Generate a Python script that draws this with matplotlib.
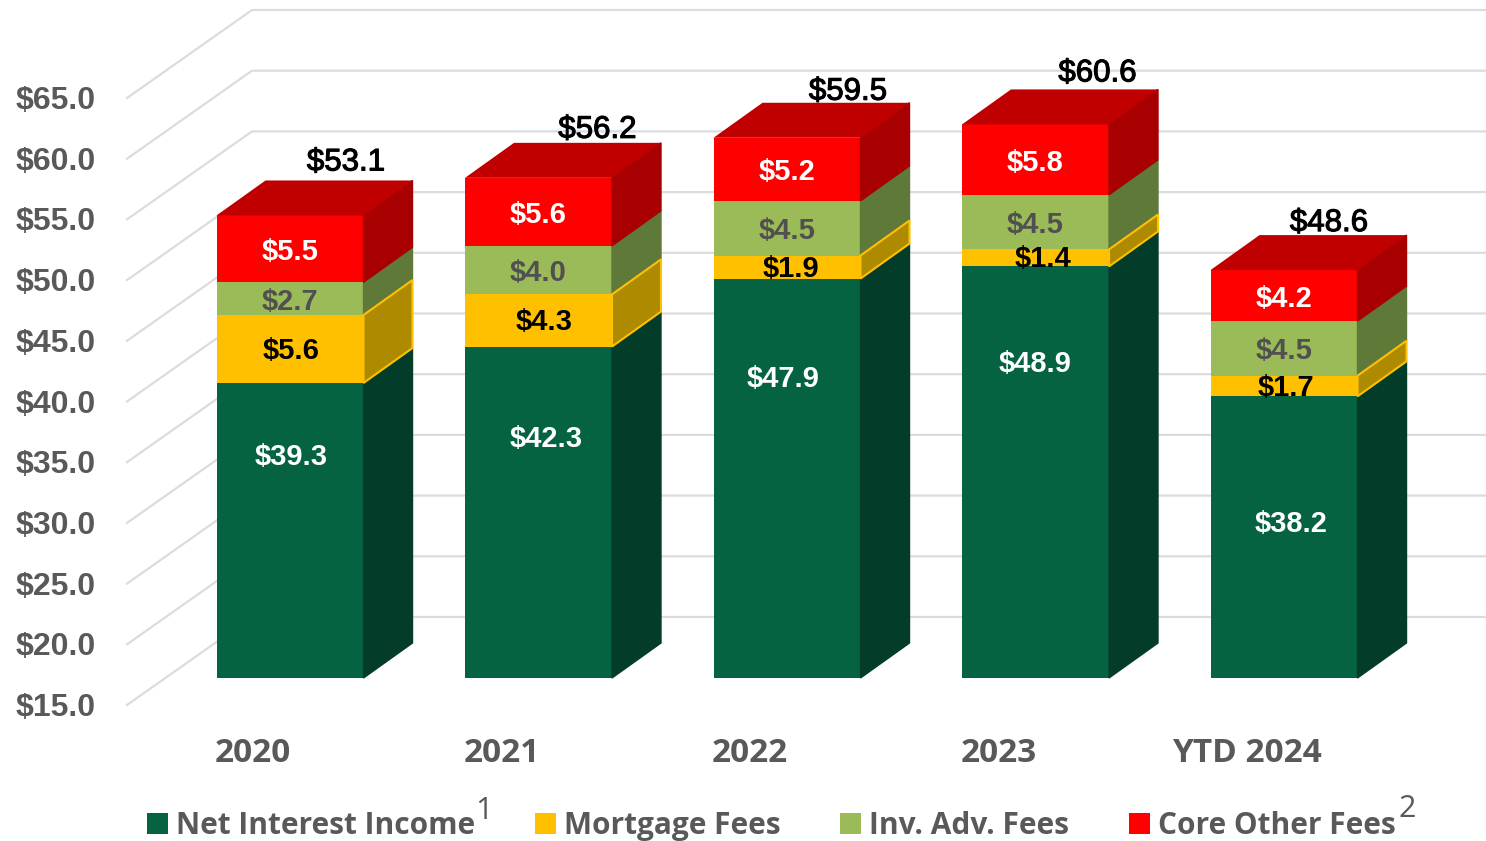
import numpy as np
import matplotlib
matplotlib.use('Agg')
import matplotlib.pyplot as plt
from matplotlib.patches import Patch
import matplotlib.patheffects as pe

# $ millions
categories = ['2020', '2021', '2022', '2023', 'YTD 2024']
net_interest = [39.3, 42.3, 47.9, 48.9, 38.2]
mortgage_fees = [5.6, 4.3, 1.9, 1.4, 1.7]
inv_adv_fees = [2.7, 4.0, 4.5, 4.5, 4.5]
core_other_fees = [5.5, 5.6, 5.2, 5.8, 4.2]
totals = [53.1, 56.2, 59.5, 60.6, 48.6]
axis_ticks = [15, 20, 25, 30, 35, 40, 45, 50, 55, 60, 65]
series_names = ['Net Interest Income', 'Mortgage Fees', 'Inv. Adv. Fees', 'Core Other Fees']

W, H = 1486, 841
PX_X = 248.5          # pixels per category
PX_Y = 12.14          # pixels per dollar
X0_PX, Y0_PX = 290, 678   # centre of first bar, base of the bars

fig = plt.figure(figsize=(W / 100, H / 100), dpi=100)
ax = fig.add_axes([0, 0, 1, 1])
ax.set_xlim(-X0_PX / PX_X, (W - X0_PX) / PX_X)
ax.set_ylim(15 - (H - Y0_PX) / PX_Y, 15 + Y0_PX / PX_Y)
ax.axis('off')

def dx(px):
    return px / PX_X

def dy(px):
    return px / PX_Y

x = np.arange(len(categories))
bar_w = dx(147)
depth_x, depth_y = dx(49), dy(35)

# walls: diagonal from the tick, then flat along the back
grid_left, grid_back = dx(127 - X0_PX), dx(252 - X0_PX)
grid_right = dx(W - X0_PX)
for v in axis_ticks:
    ax.plot([grid_left, grid_back, grid_right], [v - dy(27), v + dy(61), v + dy(61)],
            color='#dcdcdc', lw=1.6, zorder=1, solid_joinstyle='miter')
    ax.text(dx(96 - X0_PX), v - dy(30), f'${v:.1f}', ha='right', va='center',
            fontsize=23, fontweight='bold', color='#595959', family='Liberation Sans')

faces = [
    (net_interest, '#056342', '#033d2a'),
    (mortgage_fees, '#ffc000', '#ae8a00'),
    (inv_adv_fees, '#9bbb59', '#5f7a38'),
    (core_other_fees, '#ff0000', '#a80000'),
]

bottom = np.full(len(categories), 15.0)
for vals, front, side in faces:
    vals = np.array(vals)
    # bars are cut off by the axis at 15, so the first one starts there
    heights = vals - 15 if front == '#056342' else vals
    ax.bar(x, heights, bar_w, bottom=bottom, color=front, zorder=3, linewidth=0)
    top = bottom + heights
    for i in range(len(x)):
        r = x[i] + bar_w / 2
        edge = front if front == '#ffc000' else side
        ax.fill([r, r + depth_x, r + depth_x, r],
                [bottom[i], bottom[i] + depth_y, top[i] + depth_y, top[i]],
                facecolor=side, edgecolor=edge, lw=1.5 if front == '#ffc000' else 1,
                zorder=4 if front == '#ffc000' else 3)
    bottom = top

# lid of each stack
for i in range(len(x)):
    l, r = x[i] - bar_w / 2, x[i] + bar_w / 2
    ax.fill([l, r, r + depth_x, l + depth_x],
            [bottom[i], bottom[i], bottom[i] + depth_y, bottom[i] + depth_y],
            color='#c00000', lw=0, zorder=4)

# segment labels, the green ones were hand placed in the original
nii_label_at = [33.2, 34.7, 39.6, 40.9, 27.7]
nii_nudge = [1, 8, -4, 0, 7]
mort_nudge = [1, 6, 4, 8, 2]
seg_font = dict(ha='center', va='center', fontsize=21, fontweight='bold',
                family='Liberation Sans', zorder=6)
base_mort = np.array(net_interest)
base_inv = base_mort + np.array(mortgage_fees)
base_other = base_inv + np.array(inv_adv_fees)
low = dy(3)
for i in range(len(x)):
    ax.text(x[i] + dx(nii_nudge[i]), nii_label_at[i], f'${net_interest[i]:.1f}', color='white', **seg_font)
    ax.text(x[i] + dx(mort_nudge[i]), base_mort[i] + mortgage_fees[i] / 2 - low / 2, f'${mortgage_fees[i]:.1f}',
            color='black', **seg_font)
    ax.text(x[i], base_inv[i] + inv_adv_fees[i] / 2 - low, f'${inv_adv_fees[i]:.1f}', color='#505050', **seg_font)
    ax.text(x[i], base_other[i] + core_other_fees[i] / 2 - low, f'${core_other_fees[i]:.1f}', color='white', **seg_font)

# totals sit above the back of the lid
total_nudge_x = [56, 59, 61, 62, 45]
total_nudge_y = [18, 13, 11, 16, 12]
for i in range(len(x)):
    ax.text(x[i] + dx(total_nudge_x[i]), totals[i] + depth_y + dy(total_nudge_y[i]), f'${totals[i]:.1f}',
            ha='center', va='center', fontsize=22.5, color='black', family='Liberation Sans', zorder=7,
            path_effects=[pe.withStroke(linewidth=0.8, foreground='black')])

for i, name in enumerate(categories):
    ax.text(x[i] - dx(37), 15 - dy(75), name, ha='center', va='center', fontsize=24,
            fontweight='bold', color='#595959', family='Open Sans')

handles = [Patch(facecolor=f[1], edgecolor='none') for f in faces]
leg = ax.legend(handles, series_names, ncol=4, loc='center', bbox_to_anchor=(771 / W, 1 - 826 / H),
                frameon=False, handlelength=0.72, handleheight=0.72, handletextpad=0.25,
                columnspacing=2.0, borderpad=0, labelcolor='#595959',
                prop=dict(family='Open Sans', weight='bold', size=21.5))

# footnote marks
for mark, px, py in [('1', 484, 811), ('2', 1407, 809)]:
    fig.text(px / W, 1 - py / H, mark, ha='center', va='center', fontsize=22, color='#595959',
             family='Open Sans')

fig.savefig('out.png', dpi=100, facecolor='white')
